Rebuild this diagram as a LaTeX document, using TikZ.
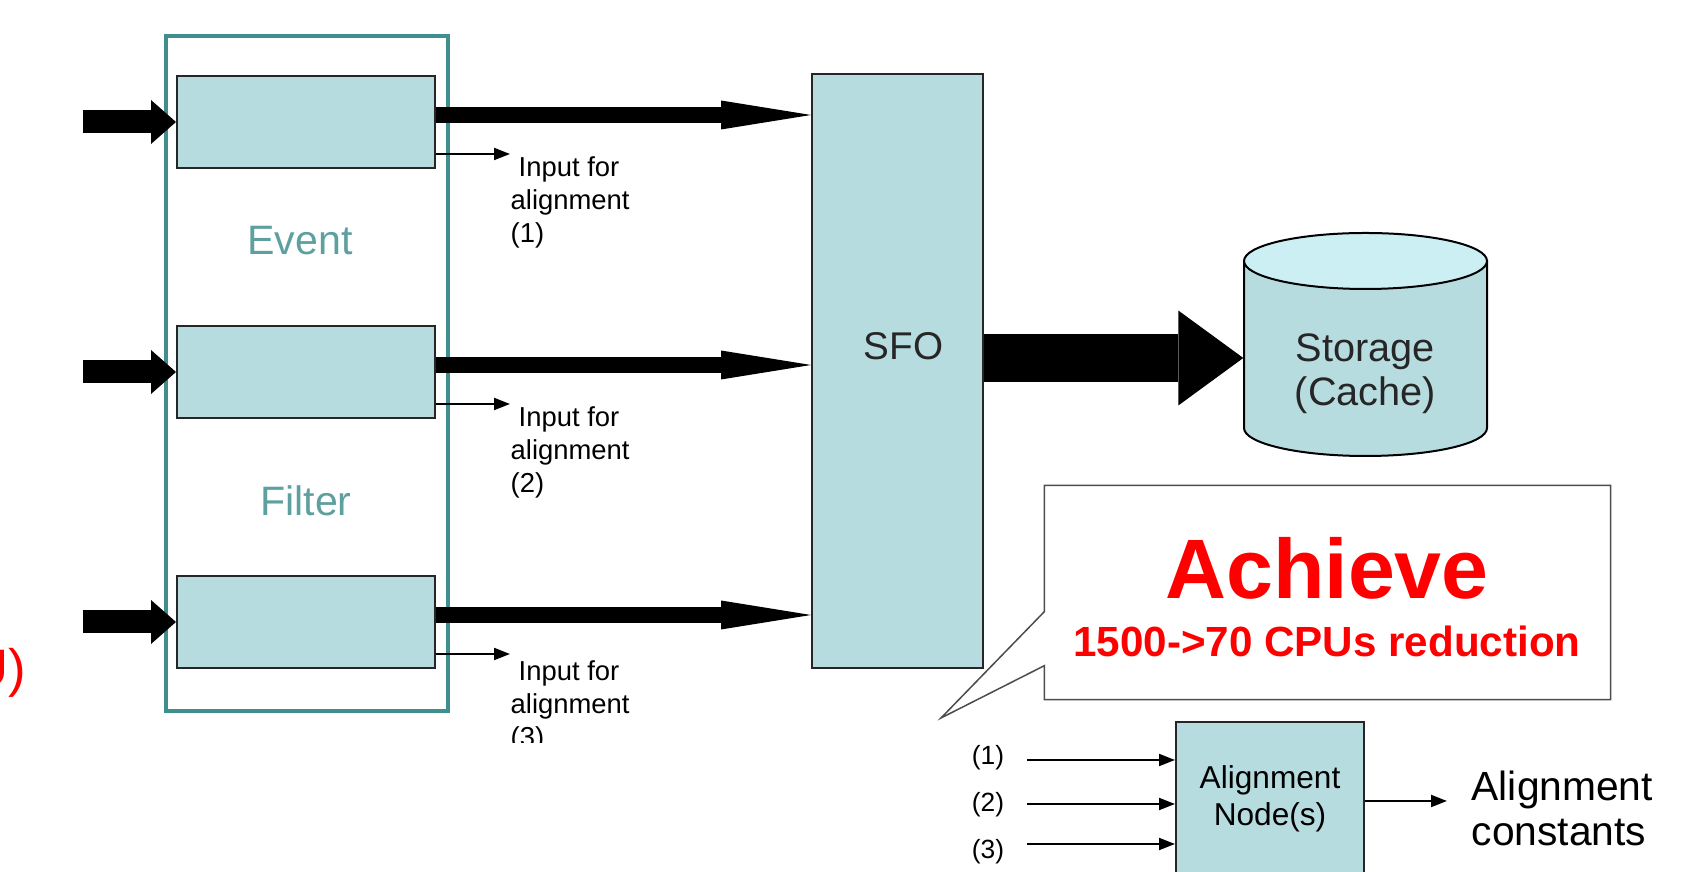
\documentclass[tikz,border=0pt]{standalone}
\usepackage{fontspec}
\setmainfont{Liberation Sans}
\usetikzlibrary{arrows.meta, positioning, calc}
\definecolor{boxfill}{HTML}{B7DCE0}
\definecolor{cyltop}{HTML}{CBEFF3}
\definecolor{framecolor}{HTML}{3F8F8F}
\definecolor{filtertext}{HTML}{5E9FA0}

\begin{document}
\begin{tikzpicture}[x=0.1mm, y=-0.1mm, every node/.style={inner sep=0pt},
  fbox/.style={draw=black!85, line width=0.2mm, fill=boxfill},
  fatin/.style={line width=2.3mm, -{Triangle[length=2.5mm, width=4.4mm, line width=0pt]}},
  fatout/.style={line width=1.6mm, -{Triangle[length=9mm, width=2.9mm, line width=0pt]}},
  thinarrow/.style={line width=0.2mm, -{Triangle[length=1.6mm, width=1.2mm]}},
  smalltext/.style={font=\fontsize{7.8}{9.4}\selectfont, align=left}]
  \useasboundingbox (0,0) rectangle (1681,872);

  % Event filter farm
  \node[draw=framecolor, line width=0.4mm, minimum width=28.2mm, minimum height=67.5mm] (filter) at (307,374) {};
  \foreach \i/\y in {1/122,2/372,3/622} {
    \node[fbox, minimum width=25.8mm, minimum height=9.2mm] (ef\i) at (306,\y) {};
    \coordinate (src\i) at (83,\y);
    \draw[fatin] (src\i) -- (src\i -| ef\i.west);
  }
  \node[text=filtertext, font=\fontsize{11.7}{14}\selectfont] (evtxt) at (300,241) {Event};
  \node[text=filtertext, font=\fontsize{11.7}{14}\selectfont] (filtxt) at (306,501) {Filter};

  % SFO
  \node[fbox, minimum width=17.1mm, minimum height=59.4mm] (sfo) at (897.5,371) {};
  \node[font=\fontsize{11}{13}\selectfont, text=black!85] (sfotxt) at ([xshift=0.6mm, yshift=2.5mm]sfo.center) {SFO};

  % streams to SFO and alignment inputs
  \foreach \i/\y in {1/202,2/452,3/706} {
    \node[smalltext, anchor=west] (inp\i) at (510,\y) {\hspace*{0.8mm}Input for\\alignment\\(\i)};
    \draw[fatout] ([yshift=0.7mm]ef\i.east) -- ([yshift=0.7mm]ef\i.east -| sfo.west);
    \draw[thinarrow] ([yshift=1.5mm]ef\i.south east) -- ([yshift=1.5mm]ef\i.south east -| inp\i.west);
  }
  \fill[white] (60,743) rectangle (880,800);

  % Storage cylinder
  \coordinate (cyltopc) at (1365.5,261);
  \coordinate (cylbotc) at (1365.5,428);
  \draw[fill=boxfill, line width=0.2mm] ([xshift=-12.15mm]cylbotc) arc[start angle=180, end angle=360, x radius=12.15mm, y radius=2.8mm]
    -- ([xshift=12.15mm]cyltopc) -- ([xshift=-12.15mm]cyltopc) -- cycle;
  \draw[fill=cyltop, line width=0.2mm] (cyltopc) ellipse[x radius=12.15mm, y radius=2.8mm];
  \node[minimum width=24.3mm, align=center, font=\fontsize{11.3}{12.5}\selectfont, text=black!85] (store) at (1365.5,374) {Storage\\(Cache)};
  \draw[line width=4.8mm, -{Triangle[length=6.5mm, width=9.5mm, line width=0pt]}] ([yshift=1.3mm]sfo.east) -- ([yshift=1.3mm]sfo.east -| store.west);

  % Callout
  \coordinate (calltip) at (941,718);
  \node[minimum width=56.5mm, minimum height=21.3mm] (callout) at (1327.5,592.5) {};
  \draw[draw=black!70, line width=0.15mm, fill=white] (callout.north west) -- (callout.north east) -- (callout.south east)
    -- (callout.south west) -- ([yshift=3.4mm]callout.south west) -- (calltip) -- ([yshift=8.8mm]callout.south west) -- cycle;
  \node[text=red, font=\bfseries\fontsize{24}{28}\selectfont] (achieve) at (1327,568) {Achieve};
  \node[text=red, font=\bfseries\fontsize{12}{14}\selectfont] (reduct) at (1327,641) {1500->70 CPUs reduction};

  % Alignment node
  \node[fbox, minimum width=18.8mm, minimum height=17.8mm] (align) at (1270,811) {};
  \node[align=center, font=\fontsize{9}{10.7}\selectfont] (aligntxt) at ([yshift=1.2mm]align.center) {Alignment\\Node(s)};
  \foreach \i/\y/\ay in {1/758/760,2/805/804,3/852/844} {
    \node[font=\fontsize{7.5}{9}\selectfont] (n\i) at (988,\y) {(\i)};
    \coordinate (a\i) at (1027,\ay);
    \draw[thinarrow] (a\i) -- (a\i -| align.west);
  }
  \node[anchor=west, align=left, font=\fontsize{11.6}{12.8}\selectfont] (const) at (1471,808) {Alignment\\constants};
  \draw[thinarrow, shorten >=2.4mm] ([yshift=1mm]align.east) -- ([yshift=1mm]align.east -| const.west);

  % clipped slide text
  \node[text=red, font=\fontsize{15}{18}\selectfont, anchor=east] (redA) at (2,216) {)};
  \node[text=red, font=\fontsize{15}{18}\selectfont, anchor=east] (redB) at (27,673) {U)};
\end{tikzpicture}
\end{document}
